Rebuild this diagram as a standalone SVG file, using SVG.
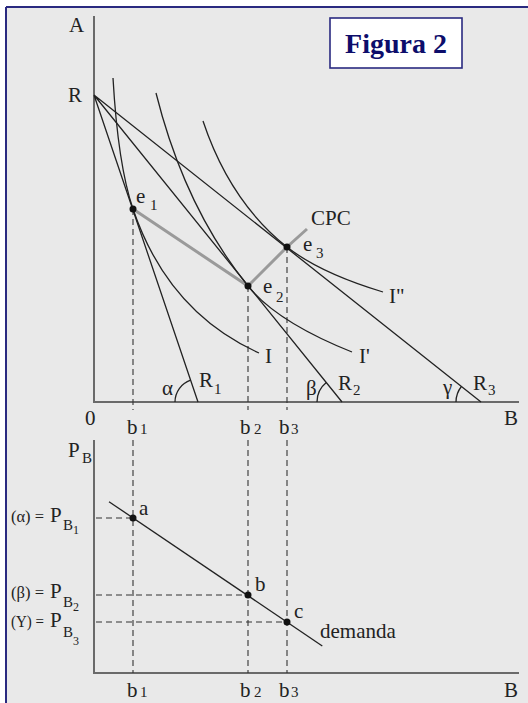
<svg xmlns="http://www.w3.org/2000/svg" width="528" height="703" viewBox="0 0 528 703">
<style>
.t{font-family:"Liberation Serif","Times New Roman",serif;fill:#222;font-size:21px}
.s{font-family:"Liberation Serif","Times New Roman",serif;fill:#222;font-size:15px}
.ln{stroke:#222;stroke-width:1.3;fill:none}
.ax{stroke:#6a6a6a;stroke-width:2;fill:none}
.dash{stroke:#333;stroke-width:1.1;stroke-dasharray:6 4;fill:none}
.cpc{stroke:#9a9a9a;stroke-width:3;fill:none}
.dot{fill:#111}
</style>
<rect x="0" y="0" width="528" height="703" fill="#ffffff"/>
<rect x="6" y="7" width="522" height="696" fill="#e9e9e9"/>
<path d="M6,7 H528 M6,7 V703" stroke="#2a2a80" stroke-width="2" fill="none"/>

<g id="title">
<rect x="330" y="18" width="132" height="50" fill="#ffffff" stroke="#2a2a80" stroke-width="1.6"/>
<text x="396" y="53" text-anchor="middle" font-family="Liberation Serif,Times New Roman,serif" font-weight="bold" font-size="28" fill="#0d0d6b">Figura 2</text>
</g>

<g id="axes">
<path class="ax" d="M94,16 V402 H519"/>
<path class="ax" d="M94,440 V673 H519"/>
</g>

<g id="connectors">
<path class="dash" d="M133,209 V410 M248,286 V410 M287,247 V410"/>
<path class="dash" d="M133,440 V673 M248,440 V673 M287,440 V673"/>
<path class="dash" d="M96,518 H133 M96,595 H248 M96,622 H287"/>
<path class="cpc" d="M133,209 L248,286 L287,247 L307,229"/>
</g>

<g id="budget-lines">
<path class="ln" d="M94,95 L198,402 M94,95 L342,402 M94,95 L481,402"/>
<path class="ln" d="M175,402 A23,23 0 0 1 190.6,380.2"/>
<path class="ln" d="M317,402 A25,25 0 0 1 326.3,382.5"/>
<path class="ln" d="M456,402 A25,25 0 0 1 461.4,386.5"/>
</g>

<g id="indifference-curves">
<path class="ln" d="M113,78 Q118,165 133,209 Q168,312 259,353"/>
<path class="ln" d="M156,93 Q184.6,207.5 248,286 Q277,322 352,352"/>
<path class="ln" d="M203,121 Q230,201.8 287,247 Q320,273 383,292"/>
</g>

<g id="demand">
<path class="ln" d="M109,501.7 L322.3,646"/>
</g>

<g id="points">
<circle class="dot" cx="133" cy="209" r="3.5"/>
<circle class="dot" cx="248" cy="286" r="3.5"/>
<circle class="dot" cx="287" cy="247" r="3.5"/>
<circle class="dot" cx="133" cy="518" r="3.5"/>
<circle class="dot" cx="248" cy="595" r="3.5"/>
<circle class="dot" cx="287" cy="622" r="3.5"/>
</g>

<g id="labels-top">
<text class="t" x="69" y="32">A</text>
<text class="t" x="68" y="102">R</text>
<text class="t" x="85" y="425">0</text>
<text class="t" x="504" y="425">B</text>
<text class="t" x="127" y="434">b</text><text class="s" x="140" y="434">1</text>
<text class="t" x="240" y="434">b</text><text class="s" x="254" y="434">2</text>
<text class="t" x="279" y="434">b</text><text class="s" x="291" y="434">3</text>
<text class="t" x="136" y="203">e</text><text class="s" x="150" y="210">1</text>
<text class="t" x="263" y="293">e</text><text class="s" x="276" y="302">2</text>
<text class="t" x="303" y="251">e</text><text class="s" x="316" y="258">3</text>
<text class="t" x="311" y="225">CPC</text>
<text class="t" x="265" y="363">I</text>
<text class="t" x="359" y="363">I'</text>
<text class="t" x="389" y="303">I"</text>
<text class="t" x="162" y="395">α</text>
<text class="t" x="199" y="387">R</text><text class="s" x="214" y="394">1</text>
<text class="t" x="306" y="395">β</text>
<text class="t" x="338" y="390">R</text><text class="s" x="353" y="395">2</text>
<text class="t" x="443" y="394">γ</text>
<text class="t" x="473" y="390">R</text><text class="s" x="488" y="395">3</text>
</g>

<g id="labels-bottom">
<text class="t" x="68" y="457">P</text><text class="s" x="82" y="463">B</text>
<text class="t" x="11" y="522"><tspan font-size="17" textLength="33" lengthAdjust="spacingAndGlyphs">(α) =</tspan><tspan x="50">P</tspan><tspan x="63" y="530" font-size="15">B</tspan><tspan x="73" y="534" font-size="12">1</tspan></text>
<text class="t" x="11" y="598"><tspan font-size="17" textLength="33" lengthAdjust="spacingAndGlyphs">(β) =</tspan><tspan x="50">P</tspan><tspan x="63" y="607" font-size="15">B</tspan><tspan x="73" y="611" font-size="12">2</tspan></text>
<text class="t" x="11" y="627"><tspan font-size="17" textLength="33" lengthAdjust="spacingAndGlyphs">(Υ) =</tspan><tspan x="50">P</tspan><tspan x="63" y="637" font-size="15">B</tspan><tspan x="73" y="645" font-size="12">3</tspan></text>
<text class="t" x="139" y="515">a</text>
<text class="t" x="255" y="591">b</text>
<text class="t" x="294" y="618">c</text>
<text class="t" x="320" y="638">demanda</text>
<text class="t" x="127" y="697">b</text><text class="s" x="140" y="697">1</text>
<text class="t" x="240" y="697">b</text><text class="s" x="254" y="697">2</text>
<text class="t" x="279" y="697">b</text><text class="s" x="291" y="697">3</text>
<text class="t" x="504" y="697">B</text>
</g>
</svg>
